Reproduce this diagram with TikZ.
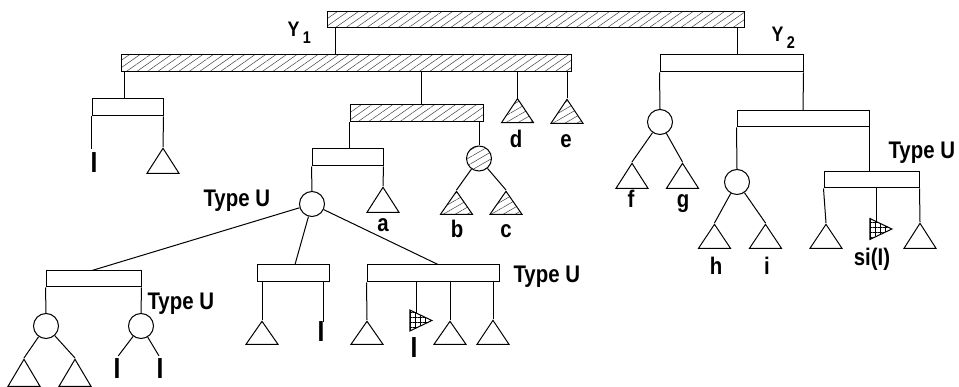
\documentclass[tikz,border=0pt]{standalone}
\usepackage{fontspec}
\setmainfont{Liberation Sans}[FakeStretch=0.85]
\usetikzlibrary{shapes.geometric, patterns.meta}

\begin{document}
\begin{tikzpicture}[
    x=1pt, y=-1pt,
    line width=1pt,
    font=\bfseries\fontsize{24}{24}\selectfont,
    box/.style={rectangle, draw, inner sep=0pt, minimum height=17},
    hbox/.style={box, pattern={Lines[angle=35, distance=6pt, line width=0.5pt]}, pattern color=black!75},
    knot/.style={circle, draw, inner sep=0pt, minimum size=25},
    hknot/.style={knot, pattern={Lines[angle=30, distance=6pt, line width=0.5pt]}, pattern color=black!75},
    leaf/.style={isosceles triangle, isosceles triangle stretches, shape border rotate=90, draw, inner sep=0pt, minimum width=32, minimum height=25, anchor=apex},
    hleaf/.style={leaf, pattern={Lines[angle=30, distance=6pt, line width=0.5pt]}, pattern color=black!75},
    xleaf/.style={isosceles triangle, isosceles triangle stretches, draw, inner sep=0pt, minimum width=21, minimum height=22, pattern={Hatch[angle=0, distance=5pt, line width=0.7pt]}},
    lbl/.style={inner sep=0pt, anchor=base},
    ibar/.style={lbl, font=\bfseries\fontsize{29}{29}\selectfont},
    ylbl/.style={inner sep=0pt, anchor=base west, font=\bfseries\fontsize{21}{21}\selectfont},
]
    \useasboundingbox (0,0) rectangle (959,387);

    \node[hbox, minimum width=417, minimum height=16] (top) at (535.5,19.5) {};
    \node[hbox, minimum width=450] (y1bar) at (346,63.5) {};
    \node[box, minimum width=143] (y2box) at (731.5,63.5) {};

    \node[box, minimum width=71] (lbox) at (127.5,107.5) {};
    \node[hbox, minimum width=133] (hmid) at (416.5,113.5) {};
    \node[hleaf, minimum height=24] (td) at (517.5,98) {};
    \node[hleaf, minimum height=24] (te) at (567,98) {};
    \node[leaf] (t0) at (163,147) {};
    \node[ibar] (i0) at (94,173) {I};

    \node[box, minimum width=71] (box3) at (347.5,157.5) {};
    \node[hknot] (hcirc) at (479,158.5) {};
    \node[knot] (ucirc) at (312,204) {};
    \node[leaf] (ta) at (383,186) {};
    \node[hleaf, minimum height=23] (tb) at (456.5,190) {};
    \node[hleaf, minimum height=23] (tc) at (506,190) {};

    \node[box, minimum width=95, minimum height=16] (box4) at (93.5,279) {};
    \node[box, minimum width=72] (box5) at (293,273.5) {};
    \node[box, minimum width=132] (box6) at (433,273.5) {};

    \node[knot] (lcirc) at (46,326) {};
    \node[knot] (rcirc) at (141,326) {};
    \node[leaf, minimum height=27] (t1) at (24,358) {};
    \node[leaf, minimum height=27] (t2) at (75,358) {};
    \node[ibar] (i1) at (117,378) {I};
    \node[ibar] (i2) at (160,378) {I};

    \node[leaf, minimum height=23] (t5) at (262,320) {};
    \node[ibar] (i5) at (321,342) {I};

    \node[leaf, minimum height=23] (t6a) at (367,320) {};
    \node[xleaf] (x6) at (416.5,320.5) {};
    \node[ibar] (i6) at (414,358) {I};
    \node[leaf, minimum height=23] (t6c) at (450,320) {};
    \node[leaf, minimum height=24] (t6d) at (493,319) {};

    \node[knot] (fgcirc) at (660,122) {};
    \node[box, minimum width=132, minimum height=16] (box7) at (803,119) {};
    \node[leaf] (tf) at (632,162) {};
    \node[leaf] (tg) at (682.5,162) {};

    \node[knot] (hicirc) at (737,182) {};
    \node[box, minimum width=95, minimum height=16] (box8) at (871.5,180) {};
    \node[leaf, minimum height=24] (th) at (714.5,223) {};
    \node[leaf, minimum height=24] (ti) at (765.5,223) {};
    \node[leaf, minimum height=24] (t8a) at (826,223) {};
    \node[xleaf] (x8) at (876.5,229) {};
    \node[leaf, minimum height=25] (t8c) at (920,222) {};

    \node[ylbl] (y1) at (287,37) {Y\,\raisebox{-7pt}{\fontsize{17}{17}\selectfont 1}};
    \node[ylbl] (y2) at (771,42) {Y\,\raisebox{-7pt}{\fontsize{17}{17}\selectfont 2}};
    \node[lbl] (la) at (383,232) {a};
    \node[lbl] (lb) at (457,238) {b};
    \node[lbl] (lc) at (506,238) {c};
    \node[lbl] (ld) at (516,148) {d};
    \node[lbl] (le) at (566,148) {e};
    \node[lbl] (lf) at (631,208) {f};
    \node[lbl] (lg) at (683,208) {g};
    \node[lbl] (lh) at (716,275) {h};
    \node[lbl] (li) at (767,275) {i};
    \node[lbl] (lsi) at (872,266) {si(I)};
    \node[lbl, anchor=base west] (u1) at (203,207) {Type U};
    \node[lbl, anchor=base west] (u2) at (147,310) {Type U};
    \node[lbl, anchor=base west] (u3) at (513,283) {Type U};
    \node[lbl, anchor=base west] (u4) at (888,159) {Type U};

    \draw ([xshift=-11]y1bar.north) -- ([xshift=-11]y1bar.north |- top.south);
    \draw ([xshift=5.5]y2box.north) -- ([xshift=5.5]y2box.north |- top.south);

    \draw ([xshift=-3]lbox.north) -- ([xshift=-3]lbox.north |- y1bar.south);
    \draw ([xshift=5]hmid.north) -- ([xshift=5]hmid.north |- y1bar.south);
    \draw (td.apex) -- (td.apex |- y1bar.south);
    \draw (te.apex) -- (te.apex |- y1bar.south);
    \draw (lbox.south east) -- (t0.apex);
    \draw[shorten >=4pt] (lbox.south west) -- (lbox.south west |- i0.north);

    \draw (hmid.south west) -- (hmid.south west |- box3.north);
    \draw (hcirc.north) -- (hcirc.north |- hmid.south);
    \draw (box3.south west) -- (ucirc.north);
    \draw (box3.south east) -- (ta.apex);
    \draw (hcirc) -- (tb.apex);
    \draw (hcirc) -- (tc.apex);

    \draw (ucirc) -- ([xshift=-1.5]box4.north);
    \draw (ucirc) -- ([xshift=2]box5.north);
    \draw (ucirc) -- ([xshift=5]box6.north);

    \draw (box4.south west) -- (lcirc.north);
    \draw (box4.south east) -- (rcirc.north);
    \draw (lcirc) -- (t1.apex);
    \draw (lcirc) -- (t2.apex);
    \draw[shorten >=2pt] (rcirc) -- (i1.north);
    \draw[shorten >=2pt] (rcirc) -- (i2.north);

    \draw (t5.apex |- box5.south) -- (t5.apex);
    \draw ([xshift=2]i5.north |- box5.south) -- ([xshift=2]i5.north);

    \draw (box6.south west) -- (t6a.apex);
    \draw (x6.north |- box6.south) -- (x6.north);
    \draw (t6c.apex |- box6.south) -- (t6c.apex);
    \draw (t6d.apex |- box6.south) -- (t6d.apex);

    \draw (y2box.south west) -- (fgcirc.north);
    \draw (y2box.south east) -- (box7.north);
    \draw (fgcirc) -- (tf.apex);
    \draw (fgcirc) -- (tg.apex);

    \draw (box7.south west) -- (hicirc.north);
    \draw (box7.south east) -- (box7.south east |- box8.north);
    \draw (hicirc) -- (th.apex);
    \draw (hicirc) -- (ti.apex);

    \draw (box8.south west) -- (t8a.apex);
    \draw (x8.north |- box8.south) -- (x8.north);
    \draw (box8.south east) -- (t8c.apex);

\end{tikzpicture}
\end{document}
